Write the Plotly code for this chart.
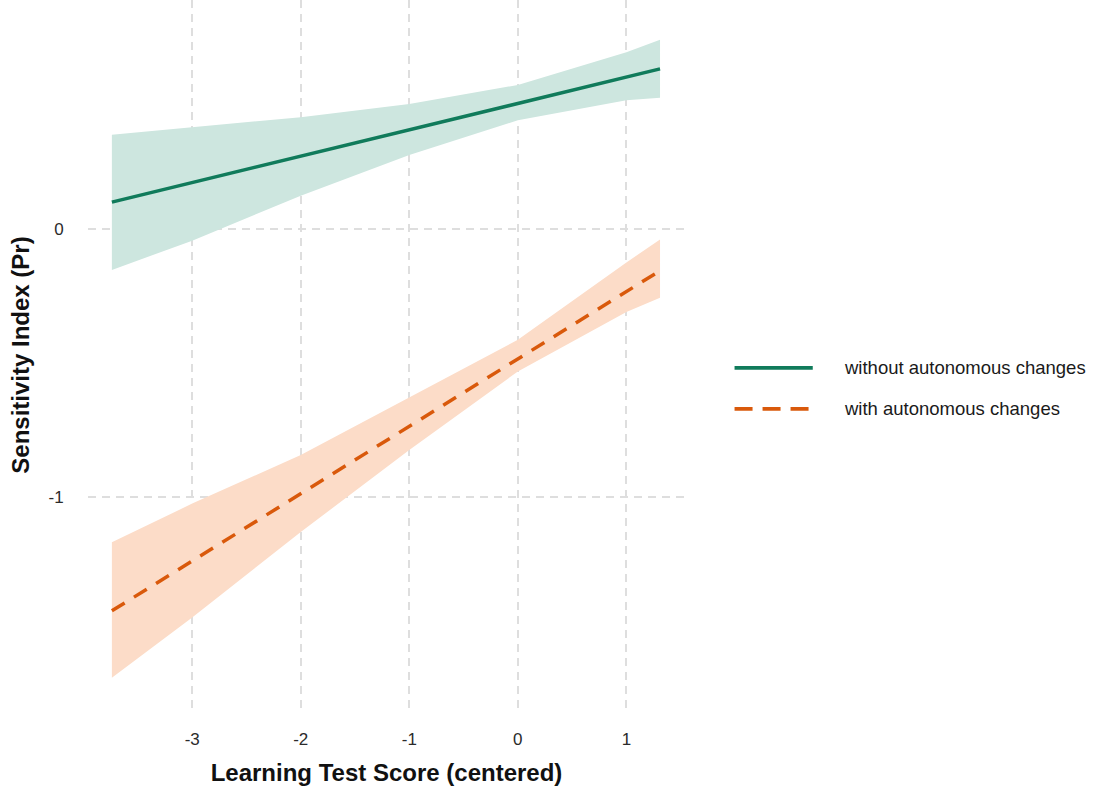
import plotly.graph_objects as go

# Predicted sensitivity index with confidence bands, by learning test score
band_x = [-3.74, -3.0, -2.0, -1.0, 0.0, 1.0, 1.31]

line_x = [-3.74, 1.31]
without_fit = [0.100, 0.597]
with_fit = [-1.425, -0.156]

without_upper = [0.351, 0.379, 0.417, 0.466, 0.537, 0.659, 0.706]
without_lower = [-0.153, -0.044, 0.124, 0.276, 0.405, 0.480, 0.489]

with_upper = [-1.169, -1.025, -0.844, -0.630, -0.414, -0.125, -0.040]
with_lower = [-1.675, -1.450, -1.131, -0.825, -0.532, -0.310, -0.257]

x_ticks = [-3, -2, -1, 0, 1]
y_ticks = [-1, 0]

series_names = ["without autonomous changes", "with autonomous changes"]

GREEN = "#107b5b"
ORANGE = "#d9590b"
GREEN_FILL = "#cde6df"
ORANGE_FILL = "#fcdcc8"
FONT = "Liberation Sans, Arial, sans-serif"

fig = go.Figure()


def add_band(xs, lo, hi, color):
    fig.add_trace(go.Scatter(
        x=xs + xs[::-1], y=hi + lo[::-1], fill="toself", fillcolor=color,
        line=dict(width=0), mode="lines", hoverinfo="skip", showlegend=False))


add_band(band_x, without_lower, without_upper, GREEN_FILL)
add_band(band_x, with_lower, with_upper, ORANGE_FILL)

fig.add_trace(go.Scatter(x=line_x, y=without_fit, mode="lines",
                         line=dict(color=GREEN, width=3.5),
                         name=series_names[0], showlegend=False))
fig.add_trace(go.Scatter(x=line_x, y=with_fit, mode="lines",
                         line=dict(color=ORANGE, width=3.5, dash="15px,11px"),
                         name=series_names[1], showlegend=False))

# Legend drawn to the right of the plotting area
legend_rows = [(0.482, GREEN, "solid"), (0.424, ORANGE, "dash")]
for (yy, col, style), label in zip(legend_rows, series_names):
    fig.add_shape(type="line", xref="paper", yref="paper",
                  x0=1.083, x1=1.214, y0=yy, y1=yy,
                  line=dict(color=col, width=3.8,
                            dash="solid" if style == "solid" else "18px,10px"))
    fig.add_annotation(xref="paper", yref="paper", x=1.263, y=yy,
                       xanchor="left", yanchor="middle", showarrow=False,
                       text=label, font=dict(family=FONT, size=18.5, color="#1a1a1a"))

grid = dict(showgrid=True, gridcolor="#dedede", gridwidth=1.5,
            griddash="8px,6px", zeroline=False, showline=False,
            ticks="outside", tickcolor="rgba(0,0,0,0)",
            tickfont=dict(family=FONT, size=17, color="#2b2b2b"))

fig.update_xaxes(range=[-3.96, 1.54], tickvals=x_ticks, ticklen=14,
                 ticktext=[str(v) for v in x_ticks],
                 title=dict(text="<b>Learning Test Score (centered)</b>",
                            font=dict(family=FONT, size=24, color="#111111"),
                            standoff=15),
                 **grid)
fig.update_yaxes(range=[-1.795, 0.854], tickvals=y_ticks, ticklen=20,
                 ticktext=[str(v) for v in y_ticks],
                 title=dict(text="<b>Sensitivity Index (Pr)</b>",
                            font=dict(family=FONT, size=24, color="#111111"),
                            standoff=12),
                 **grid)

fig.update_layout(
    width=1094, height=789,
    margin=dict(l=88, r=409, t=0, b=79),
    plot_bgcolor="white", paper_bgcolor="white",
    font=dict(family=FONT),
    showlegend=False,
)

fig.write_html("out.html")
